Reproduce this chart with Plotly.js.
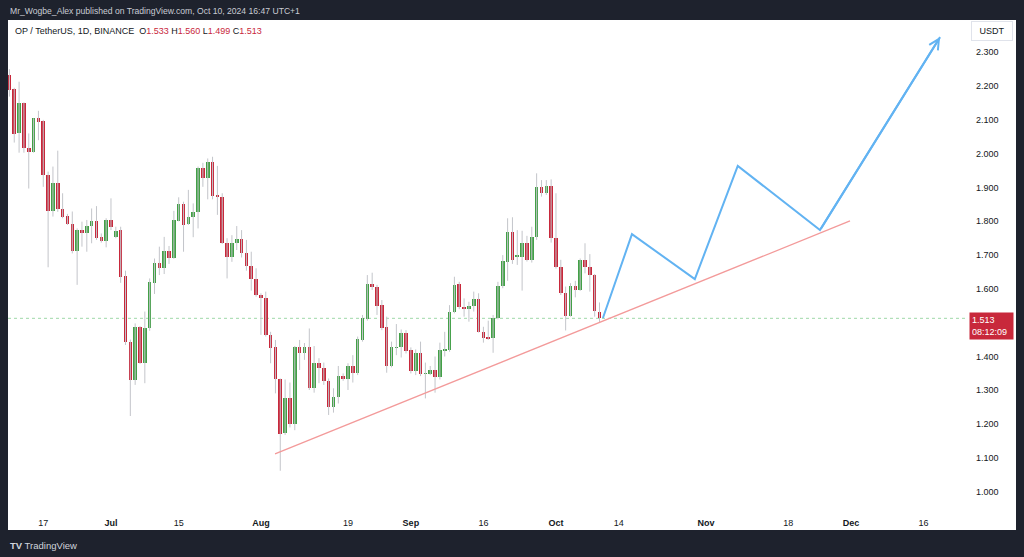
<!DOCTYPE html>
<html>
<head>
<meta charset="utf-8">
<script src="https://cdn.plot.ly/plotly-3.0.1.min.js"></script>
<style>
  html, body { margin: 0; padding: 0; background: #1e222d; }
  #chart { width: 1024px; height: 557px; }
</style>
</head>
<body>
<div id="chart"></div>
<script>
// OP / USDT daily, Jun 10 -> Oct 10 2024
const firstDay = '2024-06-10';

const open = [2.233,2.190,2.060,2.149,2.016,2.006,2.105,2.097,1.937,1.830,
  1.914,1.835,1.816,1.792,1.712,1.774,1.764,1.787,1.802,1.753,
  1.742,1.804,1.755,1.774,1.638,1.444,1.330,1.486,1.382,1.483,
  1.618,1.678,1.661,1.712,1.690,1.802,1.851,1.792,1.812,1.828,
  1.957,1.927,1.976,1.877,1.873,1.737,1.695,1.735,1.747,1.705,
  1.668,1.628,1.582,1.574,1.464,1.427,1.332,1.173,1.276,1.200,
  1.427,1.411,1.429,1.308,1.380,1.367,1.328,1.250,1.281,1.343,
  1.333,1.372,1.352,1.449,1.510,1.616,1.607,1.552,1.486,1.372,
  1.425,1.427,1.470,1.419,1.357,1.409,1.348,1.348,1.360,1.338,
  1.417,1.419,1.533,1.615,1.547,1.540,1.549,1.569,1.474,1.456,
  1.454,1.513,1.609,1.681,1.769,1.695,1.695,1.737,1.686,1.753,
  1.903,1.883,1.905,1.750,1.666,1.587,1.520,1.609,1.597,1.687,
  1.664,1.641,1.533];

const high = [2.250,2.195,2.213,2.152,2.060,2.105,2.127,2.100,1.947,1.962,
  2.009,1.883,1.822,1.829,1.779,1.799,1.804,1.838,1.845,1.764,
  1.809,1.868,1.784,1.784,1.654,1.450,1.498,1.490,1.533,1.631,
  1.690,1.725,1.754,1.727,1.831,1.871,1.858,1.893,1.853,1.962,
  1.973,1.986,1.991,1.964,1.883,1.750,1.759,1.786,1.774,1.745,
  1.710,1.661,1.587,1.592,1.473,1.449,1.335,1.332,1.323,1.431,
  1.449,1.440,1.483,1.431,1.395,1.382,1.335,1.306,1.372,1.350,
  1.380,1.404,1.459,1.523,1.641,1.648,1.612,1.567,1.518,1.444,
  1.496,1.480,1.478,1.427,1.421,1.444,1.382,1.372,1.400,1.441,
  1.473,1.552,1.636,1.621,1.572,1.562,1.592,1.587,1.488,1.506,
  1.523,1.621,1.700,1.809,1.812,1.774,1.772,1.757,1.784,1.942,
  1.922,1.922,1.924,1.883,1.686,1.607,1.617,1.624,1.690,1.735,
  1.703,1.644,1.560];

const low = [2.169,2.033,2.003,2.003,1.897,2.003,2.040,1.902,1.664,1.814,
  1.828,1.809,1.789,1.705,1.612,1.725,1.710,1.735,1.745,1.737,
  1.723,1.774,1.750,1.618,1.434,1.224,1.316,1.378,1.321,1.476,
  1.585,1.641,1.644,1.674,1.689,1.800,1.710,1.789,1.753,1.779,
  1.902,1.865,1.865,1.819,1.733,1.631,1.680,1.715,1.693,1.654,
  1.595,1.577,1.464,1.459,1.380,1.291,1.062,1.168,1.190,1.182,
  1.360,1.390,1.301,1.293,1.321,1.316,1.227,1.234,1.261,1.328,
  1.301,1.323,1.345,1.444,1.506,1.597,1.523,1.478,1.352,1.368,
  1.404,1.397,1.409,1.350,1.345,1.342,1.276,1.345,1.293,1.332,
  1.400,1.414,1.528,1.540,1.518,1.503,1.533,1.471,1.441,1.449,
  1.411,1.510,1.602,1.624,1.674,1.671,1.595,1.681,1.678,1.745,
  1.873,1.878,1.737,1.660,1.582,1.477,1.518,1.575,1.594,1.646,
  1.592,1.518,1.499];

const close = [2.188,2.058,2.149,2.016,2.006,2.105,2.095,1.937,1.830,1.914,
  1.835,1.814,1.792,1.712,1.774,1.764,1.787,1.802,1.750,1.742,
  1.804,1.782,1.772,1.636,1.444,1.330,1.486,1.382,1.483,1.621,
  1.678,1.661,1.712,1.690,1.804,1.851,1.789,1.812,1.828,1.957,
  1.927,1.976,1.875,1.873,1.735,1.695,1.735,1.747,1.705,1.668,
  1.628,1.582,1.572,1.464,1.424,1.332,1.171,1.276,1.200,1.427,
  1.411,1.427,1.308,1.380,1.367,1.327,1.250,1.281,1.343,1.333,
  1.372,1.352,1.451,1.513,1.616,1.605,1.549,1.483,1.372,1.427,
  1.428,1.470,1.417,1.357,1.409,1.348,1.350,1.360,1.338,1.419,
  1.421,1.533,1.612,1.547,1.540,1.549,1.569,1.474,1.454,1.453,
  1.513,1.609,1.684,1.769,1.687,1.700,1.735,1.686,1.753,1.903,
  1.883,1.905,1.750,1.666,1.587,1.520,1.609,1.597,1.687,1.664,
  1.641,1.536,1.513];

// drawings on the chart
const trendDates = ['2024-08-03 22:00', '2024-11-30 19:00'];
const trendPrices = [1.112, 1.801];
const pathDates = ['2024-10-10 17:00', '2024-10-16 17:00', '2024-10-29 17:00',
  '2024-11-07 14:00', '2024-11-24 14:00', '2024-12-19 10:00'];
const pathPrices = [1.514, 1.762, 1.629, 1.964, 1.774, 2.345];
const lastPrice = 1.513;

const tickDates = ['2024-06-17','2024-07-01','2024-07-15','2024-08-01','2024-08-19','2024-09-01',
  '2024-09-16','2024-10-01','2024-10-14','2024-11-01','2024-11-18','2024-12-01','2024-12-16'];
const tickLabels = ['17','<b>Jul</b>','15','<b>Aug</b>','19','<b>Sep</b>','16','<b>Oct</b>','14',
  '<b>Nov</b>','18','<b>Dec</b>','16'];
const priceTicks = [1.0,1.1,1.2,1.3,1.4,1.6,1.7,1.8,1.9,2.0,2.1,2.2,2.3];

const UP = '#43a047', DOWN = '#c8283b', WICK = '#c3c5ca';
const FONT = 'Liberation Sans, Arial, sans-serif';

// dates
const dates = [];
const d0 = new Date(firstDay + 'T00:00:00Z');
for (let i = 0; i < open.length; i++) {
  const d = new Date(d0.getTime() + i * 86400000);
  dates.push(d.toISOString().slice(0, 10));
}

// wicks
const wx = [], wy = [];
for (let i = 0; i < dates.length; i++) {
  wx.push(dates[i], dates[i], null);
  wy.push(low[i], high[i], null);
}

// bodies
const base = [], size = [], cols = [];
for (let i = 0; i < dates.length; i++) {
  base.push(Math.min(open[i], close[i]));
  size.push(Math.max(Math.abs(close[i] - open[i]), 0.004));
  cols.push(close[i] >= open[i] ? UP : DOWN);
}

const wicks = {
  x: wx, y: wy, type: 'scatter', mode: 'lines',
  line: { color: WICK, width: 1 }, hoverinfo: 'skip', connectgaps: false
};

const bodies = {
  x: dates, y: size, base: base, type: 'bar',
  width: 0.74 * 86400000,
  marker: { color: cols, line: { width: 0 } }, hoverinfo: 'skip'
};

const trend = {
  x: trendDates, y: trendPrices, type: 'scatter', mode: 'lines',
  line: { color: '#f39a9a', width: 1.3 }, hoverinfo: 'skip'
};

const path = {
  x: pathDates, y: pathPrices, type: 'scatter', mode: 'lines',
  line: { color: '#62b3f2', width: 2 }, hoverinfo: 'skip'
};

const n = pathDates.length;
const last = open.length - 1;
const red = v => '<span style="color:' + DOWN + '">' + v.toFixed(3) + '</span>';

const layout = {
  width: 1024,
  height: 557,
  margin: { l: 8, r: 58, t: 20, b: 49 },
  paper_bgcolor: '#1e222d',
  plot_bgcolor: '#ffffff',
  showlegend: false,
  hovermode: false,
  bargap: 0,
  font: { family: FONT, size: 9, color: '#131722' },
  xaxis: {
    type: 'date',
    range: ['2024-06-09 17:00', '2024-12-24 18:30'],
    tickvals: tickDates,
    ticktext: tickLabels,
    ticks: '',
    ticklabelstandoff: 8,
    showgrid: false, zeroline: false, showline: false,
    tickfont: { family: FONT, size: 9, color: '#131722' },
    fixedrange: true
  },
  yaxis: {
    side: 'right',
    range: [0.9518, 2.3956],
    tickvals: priceTicks,
    ticktext: priceTicks.map(v => v.toFixed(3)),
    ticks: '',
    ticklabelstandoff: 9,
    showgrid: false, zeroline: false, showline: false,
    tickfont: { family: FONT, size: 9, color: '#131722' },
    fixedrange: true
  },
  shapes: [
    { type: 'rect', xref: 'paper', yref: 'paper', x0: 0, x1: 1.0522, y0: -0.0451, y1: 1,
      fillcolor: '#ffffff', line: { width: 0 }, layer: 'below' },
    { type: 'line', xref: 'paper', yref: 'y', x0: 0, x1: 1, y0: lastPrice, y1: lastPrice,
      line: { color: '#9fd8a8', width: 1, dash: 'dot' }, layer: 'below' }
  ],
  annotations: [
    { xref: 'paper', yref: 'paper', x: 0, y: 1.0184, xanchor: 'left', yanchor: 'middle',
      showarrow: false, text: 'Mr_Wogbe_Alex published on TradingView.com, Oct 10, 2024 16:47 UTC+1',
      font: { family: FONT, size: 8.6, color: '#c9ccd4' } },
    { xref: 'paper', yref: 'paper', x: 0.0052, y: 0.977, xanchor: 'left', yanchor: 'middle',
      showarrow: false,
      text: 'OP / TetherUS, 1D, BINANCE &nbsp;O' + red(open[last]) + ' H' + red(high[last]) +
        ' L' + red(low[last]) + ' C' + red(close[last]),
      font: { family: FONT, size: 9, color: '#131722' } },
    { xref: 'paper', yref: 'paper', x: 1.0271, y: 0.9775, xanchor: 'center', yanchor: 'middle',
      showarrow: false, text: 'USDT', bgcolor: '#ffffff', bordercolor: '#e0e3eb', borderwidth: 1,
      borderpad: 4, width: 32, font: { family: FONT, size: 9, color: '#131722' } },
    { xref: 'paper', yref: 'y', x: 1.0031, y: lastPrice, xanchor: 'left', yanchor: 'top', yshift: 6,
      showarrow: false, text: lastPrice.toFixed(3) + '<br>08:12:09', align: 'left',
      bgcolor: '#c8283b', borderpad: 2, width: 39,
      font: { family: FONT, size: 9, color: '#ffffff' } },
    { x: pathDates[n - 1], y: pathPrices[n - 1], ax: pathDates[n - 2], ay: pathPrices[n - 2],
      xref: 'x', yref: 'y', axref: 'x', ayref: 'y', text: '', showarrow: true,
      arrowhead: 5, arrowsize: 1, arrowwidth: 2, arrowcolor: '#62b3f2', standoff: 0 },
    { xref: 'paper', yref: 'paper', x: 0, y: -0.0778, xanchor: 'left', yanchor: 'middle',
      showarrow: false, text: '<b>TV</b> TradingView',
      font: { family: FONT, size: 9.5, color: '#d1d4dc' } }
  ]
};

Plotly.newPlot('chart', [wicks, bodies, trend, path], layout, { displayModeBar: false, staticPlot: true });
</script>
</body>
</html>
